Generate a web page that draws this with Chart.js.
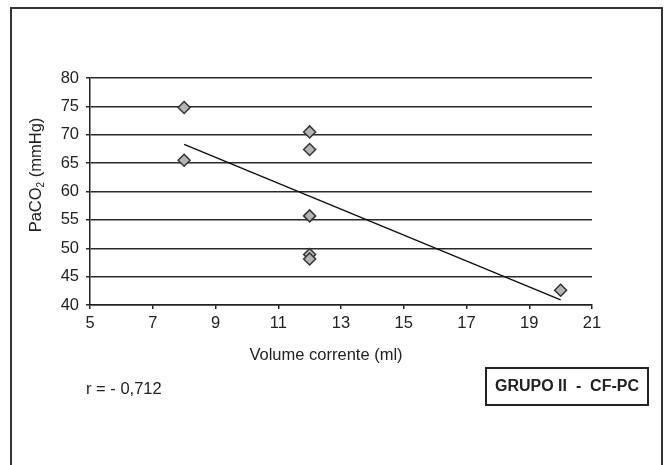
<!DOCTYPE html>
<html>
<head>
<meta charset="utf-8">
<script src="https://cdn.jsdelivr.net/npm/chart.js@4/dist/chart.umd.min.js"></script>
<style>
html,body{margin:0;padding:0;background:#fff;}
#wrap{width:669px;height:465px;position:relative;}
</style>
</head>
<body>
<div id="wrap"><canvas id="c" width="669" height="465"></canvas></div>
<script>
// Data
const volume = [8, 8, 12, 12, 12, 12, 12, 20];
const paco2  = [74.8, 65.5, 70.5, 67.4, 55.7, 48.9, 48.1, 42.6];
const trendX = [8, 20];
const trendY = [68.3, 40.9];
const xTicks = [5, 7, 9, 11, 13, 15, 17, 19, 21];
const yTicks = [40, 45, 50, 55, 60, 65, 70, 75, 80];
const xTitle = "Volume corrente (ml)";
const yTitleMain = "PaCO";
const yTitleSub = "2";
const yTitleRest = " (mmHg)";
const rText = "r = - 0,712";
const groupLabel = "GRUPO II  -  CF-PC";

const FONT = "'Liberation Sans', Arial, Helvetica, sans-serif";

const decor = {
  id: 'decor',
  afterDraw(chart) {
    const ctx = chart.ctx;
    ctx.save();
    // outer frame
    ctx.strokeStyle = '#333';
    ctx.lineWidth = 2;
    ctx.strokeRect(11, 8, 651, 480);
    // x title
    ctx.fillStyle = '#222';
    ctx.font = '16.5px ' + FONT;
    ctx.textAlign = 'center';
    ctx.textBaseline = 'middle';
    ctx.fillText(xTitle, 326, 355);
    // r text
    ctx.textAlign = 'left';
    ctx.fillText(rText, 86, 389);
    // group box
    ctx.lineWidth = 2;
    ctx.strokeStyle = '#222';
    ctx.strokeRect(486, 368, 162, 37);
    ctx.font = 'bold 16px ' + FONT;
    ctx.textAlign = 'center';
    ctx.fillText(groupLabel, 567, 387);
    // y title (rotated, with subscript)
    ctx.translate(35, 175);
    ctx.rotate(-Math.PI / 2);
    ctx.font = '16.5px ' + FONT;
    const w1 = ctx.measureText(yTitleMain).width;
    ctx.font = '10px ' + FONT;
    const w2 = ctx.measureText(yTitleSub).width;
    ctx.font = '16.5px ' + FONT;
    const w3 = ctx.measureText(yTitleRest).width;
    let x0 = -(w1 + w2 + w3) / 2;
    ctx.textAlign = 'left';
    ctx.textBaseline = 'alphabetic';
    ctx.fillText(yTitleMain, x0, 6);
    ctx.font = '10px ' + FONT;
    ctx.fillText(yTitleSub, x0 + w1, 9);
    ctx.font = '16.5px ' + FONT;
    ctx.fillText(yTitleRest, x0 + w1 + w2, 6);
    ctx.restore();
  }
};

new Chart(document.getElementById('c'), {
  type: 'scatter',
  data: {
    datasets: [
      {
        label: 'PaCO2',
        data: volume.map((v, i) => ({x: v, y: paco2[i]})),
        pointStyle: 'rectRot',
        pointRadius: 6,
        pointHoverRadius: 6,
        backgroundColor: '#b4b4b4',
        borderColor: '#333',
        borderWidth: 1.5,
        order: 1
      },
      {
        label: 'trend',
        type: 'line',
        data: trendX.map((v, i) => ({x: v, y: trendY[i]})),
        borderColor: '#111',
        borderWidth: 1.5,
        pointRadius: 0,
        fill: false,
        order: 2
      }
    ]
  },
  options: {
    responsive: false,
    animation: false,
    events: [],
    layout: { padding: { left: 0, top: 78, right: 77, bottom: 130 } },
    plugins: { legend: { display: false }, tooltip: { enabled: false } },
    scales: {
      x: {
        type: 'linear',
        min: 5, max: 21,
        afterBuildTicks: s => { s.ticks = xTicks.map(v => ({value: v})); },
        afterFit: s => { s.height = 30; },
        grid: { drawOnChartArea: false, drawTicks: true, tickLength: 4, color: '#222', lineWidth: 1.5 },
        border: { display: true, color: '#222', width: 1.5 },
        ticks: { color: '#222', font: { family: FONT, size: 16.5 }, padding: 5, maxRotation: 0 }
      },
      y: {
        type: 'linear',
        min: 40, max: 80,
        afterBuildTicks: s => { s.ticks = yTicks.map(v => ({value: v})); },
        afterFit: s => { s.width = 90; },
        grid: { drawOnChartArea: true, drawTicks: true, tickLength: 4, color: '#2a2a2a', lineWidth: 1.5 },
        border: { display: true, color: '#222', width: 1.5 },
        ticks: { color: '#222', font: { family: FONT, size: 16.5 }, padding: 7 }
      }
    }
  },
  plugins: [decor]
});
</script>
</body>
</html>
